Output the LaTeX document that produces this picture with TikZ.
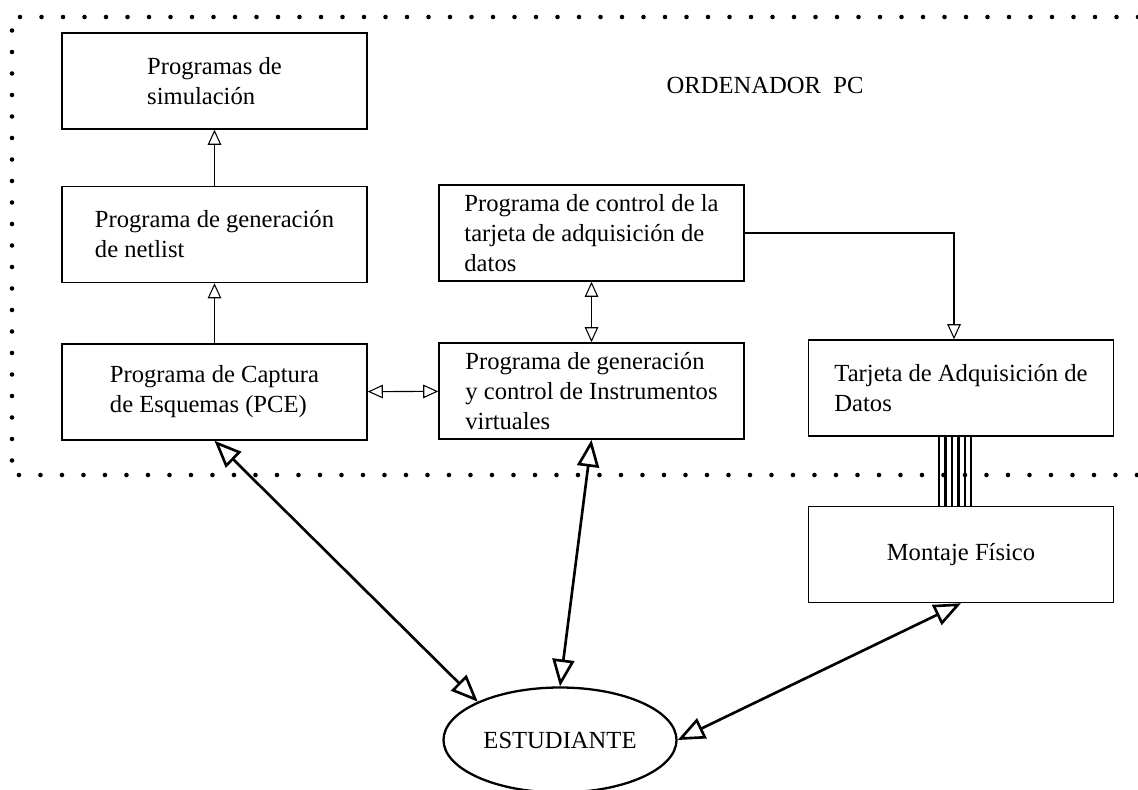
\documentclass[tikz,border=0pt]{standalone}
\usepackage{fontspec}
\setmainfont{Liberation Serif}
\usetikzlibrary{arrows.meta,shapes.geometric}

\tikzset{
  box/.style={draw, line width=0.9pt, minimum width=6.1cm, minimum height=1.92cm, align=left},
  thinarrow/.style={line width=0.6pt, -{Triangle[open, length=0.3cm, width=0.27cm]}},
  thinboth/.style={line width=0.6pt, {Triangle[open, length=0.3cm, width=0.27cm]}-{Triangle[open, length=0.3cm, width=0.27cm]}},
  thickboth/.style={line width=1.5pt, {Triangle[open, length=0.54cm, width=0.44cm]}-{Triangle[open, length=0.54cm, width=0.44cm]}},
  pcborder/.style={line width=2.6pt, line cap=round, dash pattern=on 0pt off 0.43cm}
}

\begin{document}
\begin{tikzpicture}[font=\fontsize{14}{17}\selectfont]
\useasboundingbox (0,0) rectangle (22.76,15.78);
% limite del ordenador
\draw[pcborder] (22.76,15.44) -- (0.24,15.44) -- (0.24,6.28) -- (22.76,6.28);
\node (pc) at (15.3,14.08) {ORDENADOR\ \ PC};

% programas
\node[box] (sim) at (4.29,14.16) {Programas de\\simulación};
\node[box] (netlist) at (4.29,11.09) {Programa de generación\\de netlist};
\node[box] (pce) at (4.29,7.94) {Programa de Captura\\de Esquemas (PCE)};
\node[box] (ctrl) at (11.83,11.12) {Programa de control de la\\tarjeta de adquisición de\\datos};
\node[box] (inst) at (11.83,7.96) {Programa de generación\\y control de Instrumentos\\virtuales};
\node[box] (tarjeta) at (19.22,8.02) {Tarjeta de Adquisición de\\Datos};
\node[box] (montaje) at (19.22,4.69) {Montaje Físico};
\node[draw, ellipse, line width=1.3pt, minimum width=4.6cm, minimum height=2.1cm] (est) at (11.2,0.98) {ESTUDIANTE};

% conexiones
\draw[thinarrow] (netlist) -- (sim);
\draw[thinarrow] (pce) -- (netlist);
\draw[thinboth] (pce) -- (inst);
\draw[thinboth] (ctrl) -- (inst);
\draw[thinarrow] (ctrl.east) -| ([xshift=-0.14cm]tarjeta.north);

% bus de la tarjeta
\foreach \dx in {-0.44,-0.31,-0.18,-0.05,0.08,0.2}
  \draw[line width=1.6pt] ([xshift=\dx cm]tarjeta.south) -- ([xshift=\dx cm]montaje.north);

% estudiante
\draw[thickboth] (pce.south) -- (est.155);
\draw[thickboth] (inst.south) -- (est.north);
\draw[thickboth] (montaje.south) -- (est.east);
\end{tikzpicture}
\end{document}
